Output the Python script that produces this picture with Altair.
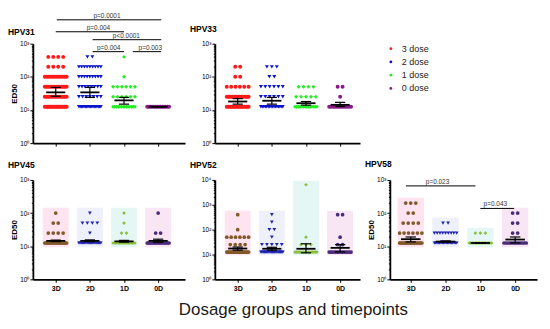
import altair as alt
import pandas as pd

# ---------------- data ----------------
groups = ["3D", "2D", "1D", "0D"]
dose_labels = ["3 dose", "2 dose", "1 dose", "0 dose"]
levels = [12.5, 25, 50, 100, 200, 400, 800, 1600, 3200, 6400]
x_title = "Dosage groups and timepoints"

# number of subjects at each titre level (12.5, 25, 50, 100, ...) per group
hpv31_counts = [[20, 14, 14, 12, 4, 4], [18, 7, 8, 9, 9, 2], [14, 6, 6, 1, 0, 1], [14]]
hpv33_counts = [[18, 16, 6, 2, 2], [16, 6, 6, 2, 3], [14, 5, 4], [12, 1, 2]]
hpv45_counts = [[20, 4, 2, 1], [20, 1, 4, 1], [18, 2, 1, 1], [16, 2, 0, 1]]
hpv52_counts = [[20, 4, 6, 1, 0, 1], [20, 5, 1, 2, 1, 1],
                [16, 3, 1, 0, 0, 0, 0, 0, 0, 1], [14, 2, 1, 0, 0, 2]]
hpv58_counts = [[20, 6, 4, 2, 3], [18, 9, 2], [16, 3], [12, 2, 2, 2]]

# mean and SEM limits per group
hpv31_mean = [34, 34, 19.5, 12.5]
hpv31_lo = [26, 24, 15, 12.5]
hpv31_hi = [48, 48, 24, 12.5]
hpv33_mean = [18, 19, 16, 14.3]
hpv33_lo = [15, 15, 14, 12.7]
hpv33_hi = [22, 24, 18, 17]
hpv45_mean = [14.5, 14.5, 14, 14.5]
hpv45_lo = [13.8, 13.8, 13.3, 13.2]
hpv45_hi = [15.3, 15.5, 15, 16.3]
hpv52_mean = [17.4, 17, 17, 18.5]
hpv52_lo = [15, 15, 11.7, 12.7]
hpv52_hi = [20, 19.5, 27, 25]
hpv58_mean = [16.3, 13.8, 12.5, 15.9]
hpv58_lo = [13.5, 13.2, 12.5, 12.6]
hpv58_hi = [19, 14.5, 12.5, 19]

# significance brackets
hpv31_br_x1 = [1.03, 1.0, 2.08, 2.08, 3.26]
hpv31_br_x2 = [4.09, 3.0, 4.09, 3.0, 4.09]
hpv31_br_y = [5250, 2290, 1320, 575, 575]
hpv31_br_tx = [2.5, 2.25, 3.07, 2.55, 3.77]
hpv31_br_label = ["p=0.0001", "p=0.004", "p<0.0001", "p=0.004", "p=0.003"]

hpv58_br_x1 = [0.86, 3.0]
hpv58_br_x2 = [2.86, 3.97]
hpv58_br_y = [660, 138]
hpv58_br_tx = [1.77, 3.43]
hpv58_br_label = ["p=0.023", "p=0.043"]

# ---------------- styles ----------------
top_colors = ["#ff1a1a", "#0a14c8", "#22ee22", "#8a1a8a"]
bot_colors = ["#82592a", "#1f22b0", "#8cbf3f", "#4a2c7a"]
pale_colors = ["#fde4f0", "#eef0fb", "#e4f7f5", "#f8e6f4"]
shapes = ["circle", "triangle-down", "diamond", "circle"]

SUP = "datum.value==1?'10\u2070':datum.value==10?'10\u00b9':datum.value==100?'10\u00b2':datum.value==1000?'10\u00b3':datum.value==10000?'10\u2074':''"


def y_axis(ymax, title):
    vals = []
    d = 1
    while d < ymax:
        vals += [d * k for k in range(1, 10)]
        d *= 10
    vals.append(ymax)
    kw = dict(values=vals, labelExpr=SUP, labelOverlap=False, grid=False,
              tickSize={"condition": {"test": "indexof([1,10,100,1000,10000], datum.value) >= 0", "value": 3}, "value": 1.5},
              tickColor="black", tickWidth=1, domainColor="black", domainWidth=1.8,
              labelFontSize=6.5, labelColor="black", labelPadding=1)
    if title:
        kw.update(title=title, titleFontSize=8, titleFontWeight="bold", titlePadding=1, titleColor="black")
    else:
        kw.update(title=None)
    return alt.Axis(**kw)


def x_axis(show_labels):
    return alt.Axis(values=[1, 2, 3, 4], labelExpr="['3D','2D','1D','0D'][datum.value-1]",
                    labels=show_labels, labelFontWeight="bold", labelFontSize=7, labelColor="black",
                    labelPadding=2, tickSize=3, tickColor="black", tickWidth=1,
                    domainColor="black", domainWidth=1.6, grid=False, title=None)


def panel(title, counts, means, lo, hi, ymax, width, xdom, colors, msize,
          pale=None, br=None, xlabels=False, ytitle=None, title_dy=-15, bottom_title=None):
    xs = alt.Scale(domain=xdom, nice=False, zero=False)
    ys = alt.Scale(type="log", domain=[1, ymax], nice=False)
    xa = x_axis(xlabels)
    ya = y_axis(ymax, ytitle)

    def X(f):
        return alt.X(f, type="quantitative", scale=xs, axis=xa)

    def Y(f):
        return alt.Y(f, type="quantitative", scale=ys, axis=ya)

    rows = []
    for gi, cs in enumerate(counts):
        for li, n in enumerate(cs):
            if n == 0:
                continue
            step = 0.145 if n < 2 else min(0.145, 0.64 / (n - 1))
            for k in range(n):
                rows.append({"g": groups[gi], "x": gi + 1 + (k - (n - 1) / 2) * step, "v": levels[li]})
    pts = pd.DataFrame(rows)

    st = pd.DataFrame({"g": groups, "c": [1, 2, 3, 4], "m": means, "lo": lo, "hi": hi})
    st["ml"] = st["c"] - 0.28
    st["mr"] = st["c"] + 0.28
    st["cl"] = st["c"] - 0.15
    st["cr"] = st["c"] + 0.15

    layers = []
    if pale is not None:
        bx = pts.groupby("g")["v"].agg(["min", "max"]).reset_index()
        bx["c"] = bx["g"].map({g: i + 1 for i, g in enumerate(groups)})
        bx["bl"] = bx["c"] - 0.38
        bx["br"] = bx["c"] + 0.38
        bx["blo"] = bx["min"] * 0.74
        bx["bhi"] = bx["max"] * 1.45
        layers.append(alt.Chart(bx).mark_rect().encode(
            x=X("bl"), x2="br", y=Y("blo"), y2="bhi",
            fill=alt.Fill("g:N", scale=alt.Scale(domain=groups, range=pale), legend=None)))

    layers.append(alt.Chart(pts).mark_point(filled=True, size=msize, opacity=1, strokeWidth=0).encode(
        x=X("x"), y=Y("v"),
        color=alt.Color("g:N", scale=alt.Scale(domain=groups, range=colors), legend=None),
        shape=alt.Shape("g:N", scale=alt.Scale(domain=groups, range=shapes), legend=None)))

    base = alt.Chart(st)
    layers.append(base.mark_rule(color="black", strokeWidth=1.8).encode(x=X("ml"), x2="mr", y=Y("m")))
    layers.append(base.mark_rule(color="black", strokeWidth=1.2).encode(x=X("c"), y=Y("lo"), y2="hi"))
    layers.append(base.mark_rule(color="black", strokeWidth=1.2).encode(x=X("cl"), x2="cr", y=Y("lo")))
    layers.append(base.mark_rule(color="black", strokeWidth=1.2).encode(x=X("cl"), x2="cr", y=Y("hi")))

    if br is not None:
        bd = pd.DataFrame({"x1": br[0], "x2": br[1], "y": br[2], "tx": br[3], "lab": br[4]})
        bc = alt.Chart(bd)
        layers.append(bc.mark_rule(color="black", strokeWidth=1, clip=False).encode(x=X("x1"), x2="x2", y=Y("y")))
        layers.append(bc.mark_text(fontSize=6.5, color="#333333", baseline="bottom", dy=-1, clip=False).encode(
            x=X("tx"), y=Y("y"), text="lab:N"))

    layers.append(alt.Chart(alt.Data(values=[{"t": title}])).mark_text(
        align="left", baseline="middle", fontWeight="bold", fontSize=8.5, color="black").encode(
        x=alt.value(-25), y=alt.value(title_dy), text="t:N"))

    if bottom_title:
        layers.append(alt.Chart(alt.Data(values=[{"t": bottom_title}])).mark_text(
            align="center", baseline="middle", fontSize=17, color="#1a1a1a").encode(
            x=alt.value(79), y=alt.value(131), text="t:N"))

    return alt.layer(*layers).properties(width=width, height=100)


def legend_panel(width):
    leg = pd.DataFrame({"lab": dose_labels, "i": [0, 1, 2, 3], "g": groups})
    ysc = alt.Scale(domain=[-0.375, 7.125], reverse=True)
    dots = alt.Chart(leg).mark_circle(size=8, opacity=1).encode(
        x=alt.value(1), y=alt.Y("i:Q", scale=ysc, axis=None),
        color=alt.Color("g:N", scale=alt.Scale(domain=groups, range=top_colors), legend=None))
    txt = alt.Chart(leg).mark_text(align="left", baseline="middle", fontSize=9, color="#222222").encode(
        x=alt.value(12), y=alt.Y("i:Q", scale=ysc, axis=None), text="lab:N")
    return alt.layer(dots, txt).properties(width=width, height=100)


W1, W2, W3 = 153, 146, 148
XD1 = [0.33, 0.33 + W1 / 34.33]
XD2 = [0.33, 0.33 + W2 / 34.33]
XD3 = [0.4, 0.4 + W3 / 35.0]

p31 = panel("HPV31", hpv31_counts, hpv31_mean, hpv31_lo, hpv31_hi, 1000, W1, XD1, top_colors, 16,
            br=[hpv31_br_x1, hpv31_br_x2, hpv31_br_y, hpv31_br_tx, hpv31_br_label],
            ytitle="ED50", title_dy=-12)
p33 = panel("HPV33", hpv33_counts, hpv33_mean, hpv33_lo, hpv33_hi, 1000, W2, XD2, top_colors, 16)
p45 = panel("HPV45", hpv45_counts, hpv45_mean, hpv45_lo, hpv45_hi, 1000, W1, XD1, bot_colors, 14,
            pale=pale_colors, xlabels=True, ytitle="ED50")
p52 = panel("HPV52", hpv52_counts, hpv52_mean, hpv52_lo, hpv52_hi, 10000, W2, XD2, bot_colors, 14,
            pale=pale_colors, xlabels=True, bottom_title=x_title)
p58 = panel("HPV58", hpv58_counts, hpv58_mean, hpv58_lo, hpv58_hi, 1000, W3, XD3, bot_colors, 14,
            pale=pale_colors, br=[hpv58_br_x1, hpv58_br_x2, hpv58_br_y, hpv58_br_tx, hpv58_br_label],
            xlabels=True, ytitle="ED50", title_dy=-16)

RES = dict(x="independent", y="independent", color="independent", fill="independent", shape="independent")

chart = alt.concat(p31, p33, legend_panel(W3), p45, p52, p58, columns=3,
                   spacing={"row": 37, "column": 30}, bounds="flush").resolve_scale(**RES).properties(
    padding={"left": 0, "top": 3, "right": 5, "bottom": 5},
).configure(font="Liberation Sans").configure_view(stroke=None)

chart.save("out.html", embed_options={"renderer": "svg", "actions": False})
